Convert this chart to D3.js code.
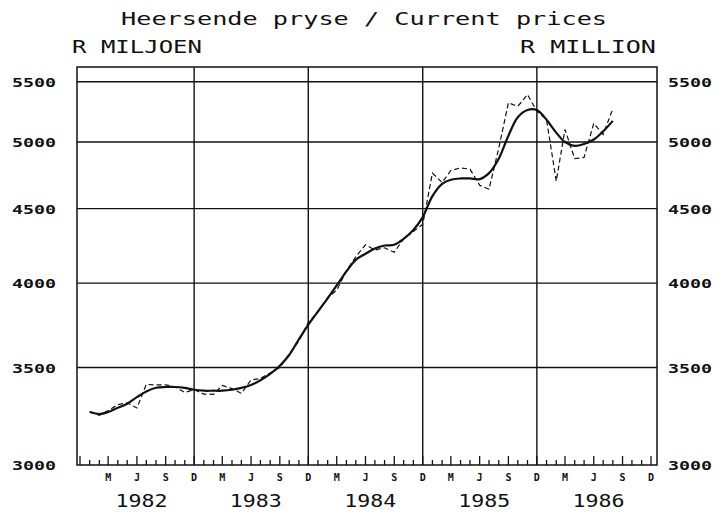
<!DOCTYPE html>
<html>
<head>
<meta charset="utf-8">
<script src="https://cdn.jsdelivr.net/npm/d3@7"></script>
<style>
  html, body { margin: 0; padding: 0; background: #fff; }
  svg { display: block; }
  text { font-family: "DejaVu Sans Mono", "Liberation Mono", monospace; fill: #111; }
</style>
</head>
<body>
<svg id="chart" width="726" height="518"></svg>
<script>
// ---------------- data ----------------
const title = "Heersende pryse / Current prices";
const unitLeft = "R MILJOEN";
const unitRight = "R MILLION";

const months = [
  "1982-01","1982-02","1982-03","1982-04","1982-05","1982-06","1982-07","1982-08","1982-09","1982-10","1982-11","1982-12",
  "1983-01","1983-02","1983-03","1983-04","1983-05","1983-06","1983-07","1983-08","1983-09","1983-10","1983-11","1983-12",
  "1984-01","1984-02","1984-03","1984-04","1984-05","1984-06","1984-07","1984-08","1984-09","1984-10","1984-11","1984-12",
  "1985-01","1985-02","1985-03","1985-04","1985-05","1985-06","1985-07","1985-08","1985-09","1985-10","1985-11","1985-12",
  "1986-01","1986-02","1986-03","1986-04","1986-05","1986-06","1986-07","1986-08"
];

// monthly (dashed) series
const actual = [
  3265,3245,3270,3300,3310,3283,3408,3405,3405,3395,3365,3380,
  3356,3355,3402,3385,3360,3432,3440,3470,3500,3575,3650,3760,
  3820,3910,3955,4080,4170,4250,4215,4230,4200,4290,4340,4390,
  4760,4690,4780,4800,4790,4670,4640,4950,5320,5290,5390,5250,
  5180,4700,5100,4870,4880,5150,5060,5270
];

// smoothed trend (solid) series
const trend = [
  3262,3252,3262,3284,3305,3340,3370,3390,3394,3394,3389,3379,
  3374,3374,3374,3379,3389,3405,3430,3465,3510,3570,3660,3745,
  3825,3905,3985,4075,4150,4190,4225,4245,4250,4290,4350,4440,
  4590,4680,4710,4720,4720,4715,4760,4870,5050,5200,5260,5260,
  5180,5075,5000,4970,4985,5020,5085,5170
];

const yTicks = [3000, 3500, 4000, 4500, 5000, 5500];
const yGrid = [3500, 4000, 4500, 5000, 5500];
const years = ["1982", "1983", "1984", "1985", "1986"];
const quarterLabels = ["M", "J", "S", "D"];

// ---------------- drawing ----------------
const svg = d3.select("#chart");
const parse = d3.utcParse("%Y-%m");

const x = d3.scaleUtc()
  .domain([Date.UTC(1981, 11, 1), Date.UTC(1986, 11, 1)])
  .range([80, 651]);
const y = d3.scaleLog().domain([3000, 5630]).range([465, 67]);

const frameL = x(Date.UTC(1981, 11, 1)) - 3;
const frameR = x(Date.UTC(1986, 11, 1)) + 6;
const plotTop = y.range()[1], plotBottom = y.range()[0];

const g = svg.append("g");

// horizontal gridlines
g.selectAll("line.hgrid").data(yGrid).join("line")
  .attr("x1", frameL).attr("x2", frameR)
  .attr("y1", d => y(d)).attr("y2", d => y(d))
  .attr("stroke", "#111").attr("stroke-width", 1.4);

// vertical gridlines at December
const decs = [1982, 1983, 1984, 1985].map(yr => new Date(Date.UTC(yr, 11, 1)));
g.selectAll("line.vgrid").data(decs).join("line")
  .attr("x1", d => x(d)).attr("x2", d => x(d))
  .attr("y1", plotTop).attr("y2", plotBottom)
  .attr("stroke", "#111").attr("stroke-width", 1.4);

// frame
g.append("rect")
  .attr("x", frameL).attr("y", plotTop)
  .attr("width", frameR - frameL).attr("height", plotBottom - plotTop)
  .attr("fill", "none").attr("stroke", "#111").attr("stroke-width", 1.5);

// month ticks on bottom axis
const monthTicks = d3.utcMonth.range(new Date(Date.UTC(1981, 11, 1)), new Date(Date.UTC(1986, 11, 2)));
g.selectAll("line.mtick").data(monthTicks).join("line")
  .attr("x1", d => x(d)).attr("x2", d => x(d))
  .attr("y1", plotBottom)
  .attr("y2", d => plotBottom - (d.getUTCMonth() % 3 === 2 ? 9 : 5))
  .attr("stroke", "#111").attr("stroke-width", 1.3);

// quarter letters
const qTicks = monthTicks.filter(d => d.getUTCMonth() % 3 === 2 && d > new Date(Date.UTC(1981, 11, 15)));
g.selectAll("text.q").data(qTicks).join("text")
  .attr("x", d => x(d)).attr("y", 481)
  .attr("text-anchor", "middle")
  .attr("font-size", 10).attr("font-weight", "bold")
  .text(d => quarterLabels[(d.getUTCMonth() - 2) / 3]);

// year labels centred mid-year
g.selectAll("text.yr").data(years).join("text")
  .attr("x", d => x(new Date(Date.UTC(+d, 5, 16))))
  .attr("y", 507)
  .attr("text-anchor", "middle")
  .attr("font-size", 18)
  .attr("textLength", 52).attr("lengthAdjust", "spacingAndGlyphs")
  .text(d => d);

// y labels left & right
g.selectAll("text.yl").data(yTicks).join("text")
  .attr("x", 56).attr("y", d => y(d) + 5)
  .attr("text-anchor", "end")
  .attr("font-size", 13).attr("font-weight", "bold")
  .attr("textLength", 44).attr("lengthAdjust", "spacingAndGlyphs")
  .text(d => d);
g.selectAll("text.yr2").data(yTicks).join("text")
  .attr("x", 668).attr("y", d => y(d) + 5)
  .attr("text-anchor", "start")
  .attr("font-size", 13).attr("font-weight", "bold")
  .attr("textLength", 44).attr("lengthAdjust", "spacingAndGlyphs")
  .text(d => d);

// titles
svg.append("text").attr("x", 121).attr("y", 25)
  .attr("font-size", 18)
  .attr("textLength", 486).attr("lengthAdjust", "spacingAndGlyphs")
  .text(title);
svg.append("text").attr("x", 72).attr("y", 53)
  .attr("font-size", 18)
  .attr("textLength", 130).attr("lengthAdjust", "spacingAndGlyphs")
  .text(unitLeft);
svg.append("text").attr("x", 520).attr("y", 53)
  .attr("font-size", 18)
  .attr("textLength", 136).attr("lengthAdjust", "spacingAndGlyphs")
  .text(unitRight);

// series
const actualPts = months.map((m, i) => [parse(m), actual[i]]);
const trendPts = months.map((m, i) => [parse(m), trend[i]]);

svg.append("path")
  .datum(actualPts)
  .attr("fill", "none").attr("stroke", "#111").attr("stroke-width", 1.2)
  .attr("stroke-dasharray", "5,3")
  .attr("d", d3.line().x(d => x(d[0])).y(d => y(d[1])));

svg.append("path")
  .datum(trendPts)
  .attr("fill", "none").attr("stroke", "#111").attr("stroke-width", 2.2)
  .attr("d", d3.line().curve(d3.curveCatmullRom).x(d => x(d[0])).y(d => y(d[1])));
</script>
</body>
</html>
